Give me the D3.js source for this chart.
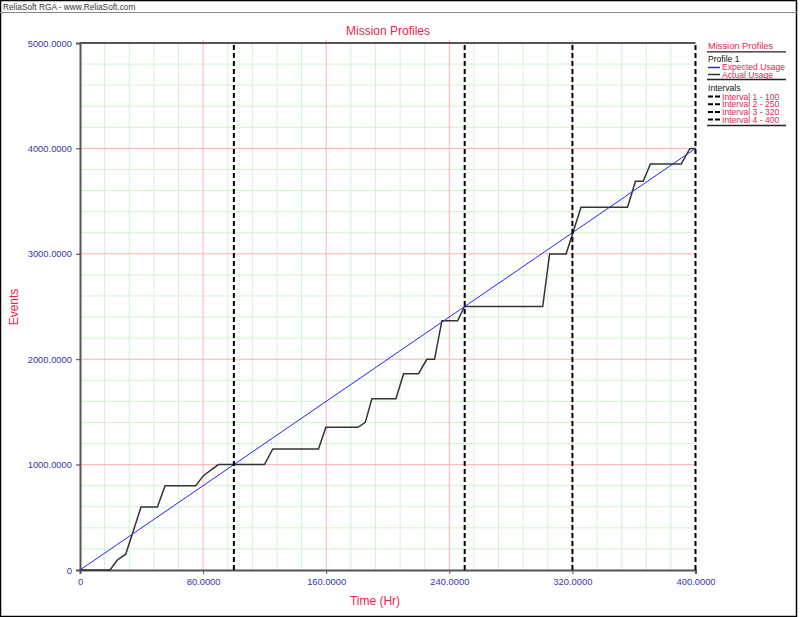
<!DOCTYPE html>
<html><head><meta charset="utf-8">
<script src="https://cdn.jsdelivr.net/npm/d3@7"></script>
<style>body{margin:0;background:#fff}svg{display:block}text{font-family:"Liberation Sans",Arial,sans-serif}</style>
</head><body><svg id="c" width="800" height="617"></svg>
<script>
const actualT = [0,19.5,24.3,29.7,39.7,50.3,55.3,75.2,80.2,89.9,119.9,125.3,155,159.8,180.6,185.4,189.7,205.3,210.3,220,225.4,230.4,235.2,245.4,249.9,300.7,305.2,315.9,320.2,325.6,355.8,361,366,370.7,390.7,396.3,400];
const actualE = [0,0,95,150,598,598,800,800,895,1000,1000,1148,1148,1354,1354,1401,1625,1625,1862,1862,1999,1999,2365,2365,2500,2500,2998,2998,3195,3441,3441,3688,3688,3852,3852,3997,4000];
const expectedT = [0,400];
const expectedE = [0,4000];
const intervals = [100,250,320,400];
const intervalLabels = ["Interval 1 - 100","Interval 2 - 250","Interval 3 - 320","Interval 4 - 400"];
const xTicks = [0,80,160,240,320,400];
const yTicks = [0,1000,2000,3000,4000,5000];

const svg = d3.select("#c");
const crimson = "#e8244f", navy = "#3636a6";
const x = d3.scaleLinear().domain([0,400]).range([80,695.5]);
const y = d3.scaleLinear().domain([0,5000]).range([570,43]);

// frame
svg.append("rect").attr("x",0.5).attr("y",0.5).attr("width",796).attr("height",616).attr("fill","none").attr("stroke","#000").attr("stroke-width",1.5);
svg.append("line").attr("x1",0).attr("x2",797).attr("y1",12.5).attr("y2",12.5).attr("stroke","#888");
svg.append("text").attr("x",3).attr("y",10).attr("font-size",8.3).attr("fill","#333").text("ReliaSoft RGA - www.ReliaSoft.com");

// grid
const g = svg.append("g");
g.selectAll(".gx").data(d3.range(0,401,16).filter(v=>v%80!==0)).enter().append("line")
 .attr("x1",d=>x(d)).attr("x2",d=>x(d)).attr("y1",y(0)).attr("y2",y(5000)).attr("stroke","#cff5cf").attr("stroke-width",1);
g.selectAll(".gy").data(d3.range(0,5001,200).filter(v=>v%1000!==0)).enter().append("line")
 .attr("y1",d=>y(d)).attr("y2",d=>y(d)).attr("x1",x(0)).attr("x2",x(400)).attr("stroke","#cff5cf").attr("stroke-width",1);
g.selectAll(".mx").data([80,160,240,320]).enter().append("line")
 .attr("x1",d=>x(d)).attr("x2",d=>x(d)).attr("y1",y(0)).attr("y2",y(5000)-3).attr("stroke","#ffb0b0").attr("stroke-width",1);
g.selectAll(".my").data([1000,2000,3000,4000]).enter().append("line")
 .attr("y1",d=>y(d)).attr("y2",d=>y(d)).attr("x1",x(0)-4).attr("x2",x(400)).attr("stroke","#ffb0b0").attr("stroke-width",1);

// axes
const xa = svg.append("g").attr("transform",`translate(0,${y(0)})`)
 .call(d3.axisBottom(x).tickValues(xTicks).tickSize(4).tickFormat(d=>d===0?"0":d3.format(".4f")(d)));
const ya = svg.append("g").attr("transform",`translate(${x(0)},0)`)
 .call(d3.axisLeft(y).tickValues(yTicks).tickSize(4).tickFormat(d=>d===0?"0":d3.format(".4f")(d)));
[xa,ya].forEach(a=>{a.select(".domain").attr("stroke","#555").attr("stroke-width",2);
 a.selectAll(".tick line").attr("stroke","#555");
 a.selectAll("text").attr("fill",navy).attr("font-size",9.4).attr("font-family","Liberation Sans, Arial");});
xa.selectAll("text").attr("dy","0.9em");
ya.selectAll("text").attr("dx","-1");
svg.append("line").attr("x1",x(0)).attr("x2",x(400)).attr("y1",y(5000)).attr("y2",y(5000)).attr("stroke","#555").attr("stroke-width",2);

// expected & actual
const line = d3.line().x(d=>x(d[0])).y(d=>y(d[1]));
svg.append("path").datum(d3.zip(actualT,actualE)).attr("d",line).attr("fill","none").attr("stroke","#333").attr("stroke-width",1.5);
svg.append("path").datum(d3.zip(expectedT,expectedE)).attr("d",line).attr("fill","none").attr("stroke","#2424ff").attr("stroke-width",1);

// intervals
svg.selectAll(".iv").data(intervals).enter().append("line")
 .attr("x1",d=>x(d)).attr("x2",d=>x(d)).attr("y1",y(0)).attr("y2",y(5000))
 .attr("stroke","#000").attr("stroke-width",2).attr("stroke-dasharray","5,3");

// titles
svg.append("text").attr("x",388).attr("y",35).attr("text-anchor","middle").attr("font-size",12).attr("fill",crimson).text("Mission Profiles");
svg.append("text").attr("x",375).attr("y",605).attr("text-anchor","middle").attr("font-size",12).attr("fill",crimson).text("Time (Hr)");
svg.append("text").attr("transform","translate(18,307) rotate(-90)").attr("text-anchor","middle").attr("font-size",12).attr("fill",crimson).text("Events");

// legend
const L = svg.append("g").attr("font-size",8.6);
const lx = 707;
L.append("text").attr("x",lx+1).attr("y",48.5).attr("fill",crimson).attr("font-size",9.3).text("Mission Profiles");
L.append("line").attr("x1",lx).attr("x2",786).attr("y1",51.8).attr("y2",51.8).attr("stroke","#222").attr("stroke-width",1.3);
L.append("text").attr("x",lx+1).attr("y",61.5).attr("fill","#111").text("Profile 1");
L.append("line").attr("x1",lx+1).attr("x2",lx+13).attr("y1",67.5).attr("y2",67.5).attr("stroke","#2424ff").attr("stroke-width",1.5);
L.append("text").attr("x",lx+15).attr("y",69.5).attr("fill",crimson).text("Expected Usage");
L.append("line").attr("x1",lx+1).attr("x2",lx+13).attr("y1",74.5).attr("y2",74.5).attr("stroke","#333").attr("stroke-width",1.5);
L.append("text").attr("x",lx+15).attr("y",77.5).attr("fill",crimson).text("Actual Usage");
L.append("line").attr("x1",lx).attr("x2",786).attr("y1",79.5).attr("y2",79.5).attr("stroke","#222").attr("stroke-width",1.3);
L.append("text").attr("x",lx+1).attr("y",90.5).attr("fill","#111").text("Intervals");
intervalLabels.forEach((t,i)=>{
 const yy = 96.5 + i*7.7;
 L.append("line").attr("x1",lx+1).attr("x2",lx+13).attr("y1",yy).attr("y2",yy).attr("stroke","#000").attr("stroke-width",2).attr("stroke-dasharray","5,2");
 L.append("text").attr("x",lx+15).attr("y",yy+3).attr("fill",crimson).text(t);
});
L.append("line").attr("x1",lx).attr("x2",786).attr("y1",125.5).attr("y2",125.5).attr("stroke","#222").attr("stroke-width",1.3);
</script></body></html>
